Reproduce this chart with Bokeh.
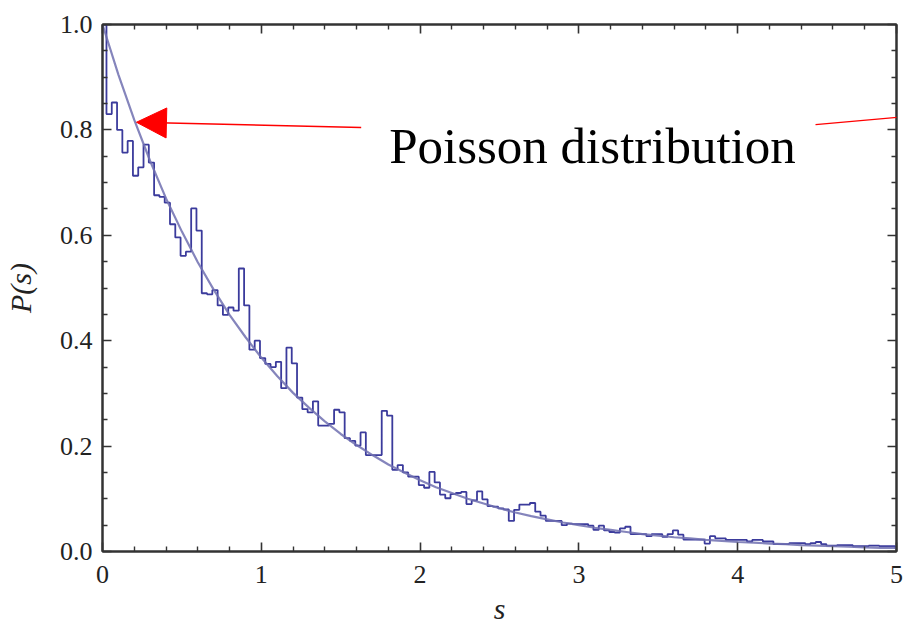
from bokeh.plotting import figure
from bokeh.models import (Range1d, FixedTicker, LinearAxis, Label, Arrow,
                          NormalHead, PrintfTickFormatter)
from bokeh.embed import file_html
from bokeh.resources import INLINE

# ---- data ----
BIN_START = 0.025          # left edge of first full-width bin
BIN_WIDTH = 1.0 / 30.0
first_bin_value = 1.0      # narrow bin [0, BIN_START]
hist_values = [
    0.830, 0.852, 0.800, 0.757, 0.779, 0.713, 0.729, 0.772, 0.738, 0.676,
    0.673, 0.662, 0.621, 0.596, 0.561, 0.569, 0.651, 0.609, 0.490, 0.488,
    0.496, 0.467, 0.449, 0.463, 0.457, 0.537, 0.467, 0.383, 0.400, 0.367,
    0.356, 0.350, 0.360, 0.310, 0.387, 0.357, 0.292, 0.270, 0.264, 0.285,
    0.239, 0.239, 0.242, 0.269, 0.264, 0.215, 0.210, 0.201, 0.226, 0.183,
    0.183, 0.183, 0.267, 0.258, 0.155, 0.164, 0.150, 0.142, 0.142, 0.126,
    0.121, 0.151, 0.131, 0.108, 0.101, 0.109, 0.111, 0.113, 0.090, 0.097,
    0.114, 0.099, 0.086, 0.085, 0.082, 0.080, 0.058, 0.079, 0.089, 0.089,
    0.092, 0.0755, 0.068, 0.058, 0.058, 0.058, 0.050, 0.053, 0.052, 0.052,
    0.052, 0.049, 0.041, 0.049, 0.040, 0.037, 0.036, 0.044, 0.047, 0.033,
    0.033, 0.033, 0.029, 0.033, 0.033, 0.028, 0.033, 0.040, 0.032, 0.0226,
    0.0226, 0.0226, 0.0226, 0.015, 0.029, 0.025, 0.025, 0.022, 0.022, 0.022,
    0.022, 0.019, 0.022, 0.022, 0.019, 0.019, 0.014, 0.014, 0.014, 0.016,
    0.016, 0.016, 0.014, 0.016, 0.018, 0.014, 0.011, 0.011, 0.012, 0.012,
    0.012, 0.010, 0.010, 0.010, 0.011, 0.011, 0.010, 0.010, 0.010, 0.006,
]

poisson_s = [round(0.1 * i, 1) for i in range(51)]
poisson_p = [
    1.000, 0.905, 0.819, 0.741, 0.670, 0.607, 0.549, 0.497, 0.449, 0.407,
    0.368, 0.333, 0.301, 0.273, 0.247, 0.223, 0.202, 0.183, 0.165, 0.150,
    0.135, 0.122, 0.111, 0.100, 0.091, 0.082, 0.074, 0.067, 0.061, 0.055,
    0.050, 0.045, 0.041, 0.037, 0.033, 0.030, 0.027, 0.025, 0.022, 0.020,
    0.018, 0.017, 0.015, 0.014, 0.012, 0.011, 0.010, 0.009, 0.008, 0.007,
    0.007,
]

x_ticks = [0, 1, 2, 3, 4, 5]
y_ticks = [0.0, 0.2, 0.4, 0.6, 0.8, 1.0]
annotation_text = "Poisson distribution"
x_label = "s"
y_label = "P(s)"

# ---- figure ----
SERIF = "'Liberation Serif'"
AX = "#333333"

p = figure(width=903, height=633, output_backend="svg", toolbar_location=None,
           x_range=Range1d(0, 5), y_range=Range1d(0, 1),
           min_border_left=101, min_border_right=7,
           min_border_top=24, min_border_bottom=82)
p.background_fill_color = "white"
p.border_fill_color = "white"
p.grid.visible = False
p.outline_line_color = AX
p.outline_line_width = 2

x_minor = [round(0.2 * i, 1) for i in range(26) if i % 5 != 0]
y_minor = [round(0.05 * i, 2) for i in range(21) if i % 4 != 0]
xt = FixedTicker(ticks=x_ticks, minor_ticks=x_minor)
yt = FixedTicker(ticks=y_ticks, minor_ticks=y_minor)


def style_axis(ax, show_labels):
    ax.axis_line_color = AX
    ax.axis_line_width = 2
    ax.major_tick_line_color = AX
    ax.minor_tick_line_color = AX
    ax.major_tick_line_width = 1.6
    ax.minor_tick_line_width = 1.4
    ax.major_tick_in = 9
    ax.major_tick_out = 0
    ax.minor_tick_in = 5
    ax.minor_tick_out = 0
    if show_labels:
        ax.major_label_text_font = SERIF
        ax.major_label_text_font_size = "26px"
        ax.major_label_text_color = "#222222"
    else:
        ax.major_label_text_font_size = "1px"
        ax.major_label_text_color = None
        ax.major_label_standoff = 0
        ax.axis_label_standoff = 0


xa = p.xaxis[0]
xa.ticker = xt
style_axis(xa, True)
xa.major_label_standoff = 14
xa.axis_label = x_label
xa.axis_label_text_font = SERIF
xa.axis_label_text_font_style = "italic"
xa.axis_label_text_font_size = "30px"
xa.axis_label_text_color = "#222222"
xa.axis_label_standoff = 6

ya = p.yaxis[0]
ya.ticker = yt
ya.formatter = PrintfTickFormatter(format="%.1f")
style_axis(ya, True)
ya.major_label_standoff = 10
ya.axis_label = y_label
ya.axis_label_text_font = SERIF
ya.axis_label_text_font_style = "italic"
ya.axis_label_text_font_size = "30px"
ya.axis_label_text_color = "#222222"
ya.axis_label_standoff = 20

ra = LinearAxis(ticker=yt)
style_axis(ra, False)
p.add_layout(ra, "right")
ta = LinearAxis(ticker=xt)
style_axis(ta, False)
p.add_layout(ta, "above")

# ---- histogram (step) ----
n = len(hist_values)
step_x = [0.0] + [BIN_START + k * BIN_WIDTH for k in range(n + 1)]
step_y = [first_bin_value] + hist_values + [hist_values[-1]]
p.step(x=step_x, y=step_y, mode="after", line_color="#3b3b9c", line_width=1.8)

# ---- Poisson curve ----
p.line(x=poisson_s, y=poisson_p, line_color="#7070b0", line_width=2.2, line_alpha=0.85)

# ---- annotation ----
p.add_layout(Label(x=1.805, y=0.770, text=annotation_text, text_font=SERIF,
                   text_font_size="51px", text_color="black",
                   text_baseline="alphabetic", text_align="left"))
p.add_layout(Arrow(x_start=1.629, y_start=0.8045, x_end=0.2138, y_end=0.8145,
                   line_color="red", line_width=1.5,
                   end=NormalHead(size=30, fill_color="red", line_color="red")))
p.add_layout(Arrow(x_start=4.49, y_start=0.810, x_end=5.044, y_end=0.825,
                   line_color="red", line_width=1.2, end=None))

open("out.html", "w").write(file_html(p, INLINE))
